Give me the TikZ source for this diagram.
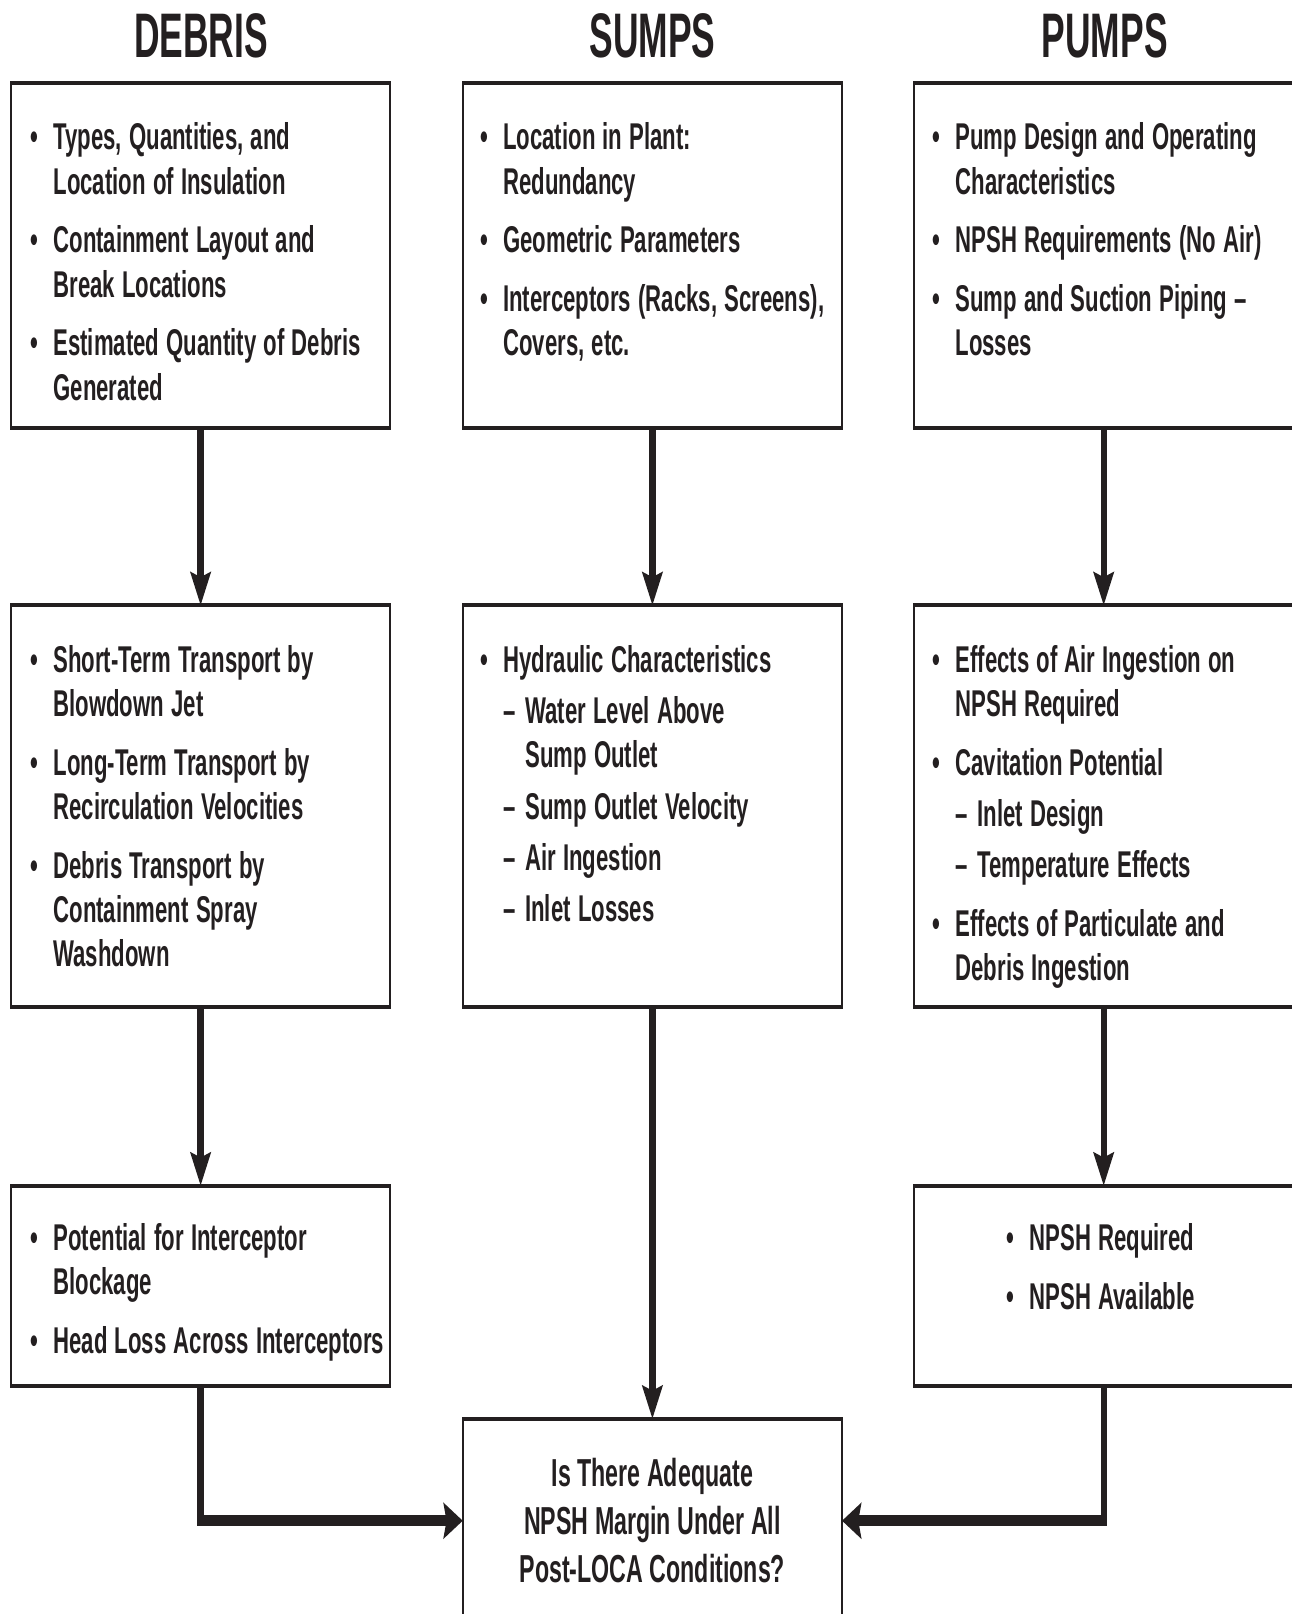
\documentclass[tikz,border=0pt]{standalone}
\usepackage{fontspec}
\setmainfont{Liberation Sans}[FakeStretch=1.025]
\newfontfamily\headfont{Liberation Sans}[FakeStretch=0.97]
\usetikzlibrary{arrows.meta,positioning,calc}

\definecolor{ink}{RGB}{35,31,32}

% indents for bullets and dashes
\newlength{\bulw}\setlength{\bulw}{0.397cm}
\newlength{\dashw}\setlength{\dashw}{0.379cm}
\newcommand{\bul}{\makebox[\bulw][l]{\textbullet}}
\newcommand{\cont}{\hspace*{\bulw}}
\newcommand{\dsh}{\hspace*{\bulw}\makebox[\dashw][l]{\textendash}}
\newcommand{\dcont}{\hspace*{\bulw}\hspace*{\dashw}}

\begin{document}
\begin{tikzpicture}[x=0.01cm, y=-0.01cm]
    \useasboundingbox (0,0) rectangle (1292,1614);
    \begin{scope}[transform canvas={xscale=0.58}, x=0.017241cm]
        % Define styles
        \tikzstyle{box} = [rectangle, draw=ink, line width=0.04cm, inner sep=0pt,
            outer sep=0pt, minimum width=6.534cm]
        \tikzstyle{head} = [text=ink, inner sep=0pt, font=\headfont\bfseries\fontsize{17.9}{20}\selectfont]
        \tikzstyle{txt} = [text=ink, anchor=base west, inner sep=0pt, align=left,
            text width=6.6cm, font=\bfseries\fontsize{10.6}{12.6}\selectfont]
        \tikzstyle{ask} = [text=ink, inner sep=0pt, align=center,
            font=\bfseries\fontsize{11.1}{13.6}\selectfont]
        \tikzstyle{arrow} = [draw=ink, line width=0.11cm,
            -{Stealth[length=0.33cm, width=0.35cm, inset=0.05cm]}]

        % Headings
        \node [head] (debrisHead) at (201,36) {DEBRIS};
        \node [head] (sumpsHead) at (652,36) {SUMPS};
        \node [head] (pumpsHead) at (1104,36) {PUMPS};

        % Boxes
        \node [box, minimum height=3.45cm] (debrisA) at (200.5,255.5) {};
        \node [box, minimum height=4.02cm, below=1.77cm of debrisA] (debrisB) {};
        \node [box, minimum height=2.0cm, below=1.78cm of debrisB] (debrisC) {};
        \node [box, minimum height=3.45cm] (sumpsA) at (652,255.5) {};
        \node [box, minimum height=4.02cm, below=1.77cm of sumpsA] (sumpsB) {};
        \node [box, minimum height=2.04cm, below=4.11cm of sumpsB] (verdict) {};
        \node [box, minimum height=3.45cm] (pumpsA) at (1103,255.5) {};
        \node [box, minimum height=4.02cm, below=1.77cm of pumpsA] (pumpsB) {};
        \node [box, minimum height=2.0cm, below=1.78cm of pumpsB] (pumpsC) {};

        % Texts
        \node [txt] (debrisAtxt) at ($(debrisA.north west)+(19,67)$) {%
            \bul Types, Quantities, and\\ \cont Location of Insulation\\[4.1pt]
            \bul Containment Layout and\\ \cont Break Locations\\[4.1pt]
            \bul Estimated Quantity of Debris\\ \cont Generated};
        \node [txt] (sumpsAtxt) at ($(sumpsA.north west)+(17,67)$) {%
            \bul Location in Plant:\\ \cont Redundancy\\[4.1pt]
            \bul Geometric Parameters\\[4.1pt]
            \bul Interceptors (Racks, Screens),\\ \cont Covers, etc.};
        \node [txt] (pumpsAtxt) at ($(pumpsA.north west)+(18,67)$) {%
            \bul Pump Design and Operating\\ \cont Characteristics\\[4.1pt]
            \bul NPSH Requirements (No Air)\\[4.1pt]
            \bul Sump and Suction Piping \textendash\\ \cont Losses};
        \node [txt] (debrisBtxt) at ($(debrisB.north west)+(19,67)$) {%
            \bul Short-Term Transport by\\ \cont Blowdown Jet\\[4.1pt]
            \bul Long-Term Transport by\\ \cont Recirculation Velocities\\[4.1pt]
            \bul Debris Transport by\\ \cont Containment Spray\\ \cont Washdown};
        \node [txt] (sumpsBtxt) at ($(sumpsB.north west)+(17,67)$) {%
            \bul Hydraulic Characteristics\\[2pt]
            \dsh Water Level Above\\ \dcont Sump Outlet\\[2pt]
            \dsh Sump Outlet Velocity\\[2pt]
            \dsh Air Ingestion\\[2pt]
            \dsh Inlet Losses};
        \node [txt] (pumpsBtxt) at ($(pumpsB.north west)+(18,67)$) {%
            \bul Effects of Air Ingestion on\\ \cont NPSH Required\\[4.1pt]
            \bul Cavitation Potential\\[2pt]
            \dsh Inlet Design\\[2pt]
            \dsh Temperature Effects\\[4.1pt]
            \bul Effects of Particulate and\\ \cont Debris Ingestion};
        \node [txt] (debrisCtxt) at ($(debrisC.north west)+(19,65)$) {%
            \bul Potential for Interceptor\\ \cont Blockage\\[4.1pt]
            \bul Head Loss Across Interceptors};
        \node [txt] (pumpsCtxt) at ($(pumpsC.north west)+(92,65)$) {%
            \bul NPSH Required\\[4.1pt]
            \bul NPSH Available};
        \node [ask] (verdictTxt) at (verdict) {Is There Adequate\\
            NPSH Margin Under All\\ Post-LOCA Conditions?};

        % Arrows
        \draw [arrow] (debrisA) -- (debrisB);
        \draw [arrow] (debrisB) -- (debrisC);
        \draw [arrow] (sumpsA) -- (sumpsB);
        \draw [arrow] (sumpsB) -- (verdict);
        \draw [arrow] (pumpsA) -- (pumpsB);
        \draw [arrow] (pumpsB) -- (pumpsC);
        \draw [arrow] (debrisC.south) |- (verdict.west);
        \draw [arrow] (pumpsC.south) |- (verdict.east);
    \end{scope}
\end{tikzpicture}
\end{document}
